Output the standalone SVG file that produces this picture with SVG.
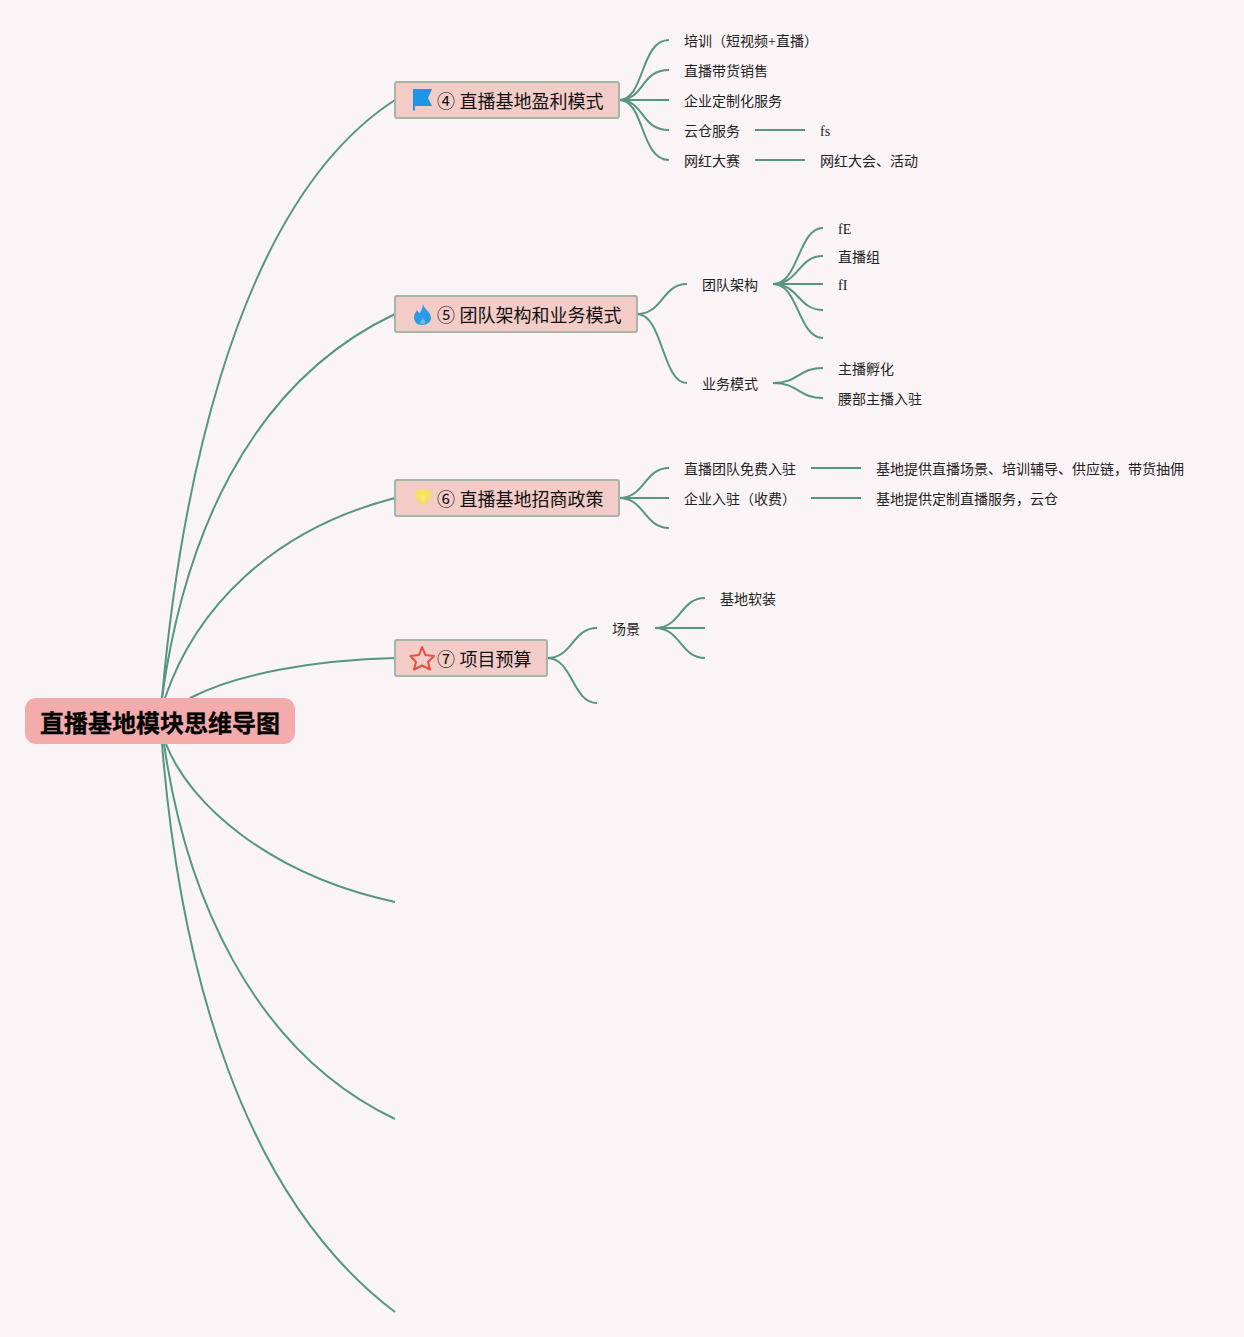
<svg xmlns="http://www.w3.org/2000/svg" width="1244" height="1337" viewBox="0 0 1244 1337">
<style>
text{font-family:"Liberation Serif","Noto Sans CJK SC",serif;fill:#222}
.t{font-size:14px}
.m{font-size:18px;fill:#111}
.r{font-size:24px;font-weight:700;fill:#000;stroke:#000;stroke-width:.3px}
.b{fill:#f3cbc7;stroke:#a5b5a8;stroke-width:2}
.c path{fill:none;stroke:#559681;stroke-width:2}
</style>
<rect width="1244" height="1337" fill="#fbf4f7"/>
<g class="c" id="connectors">
<path d="M162 698C177 530 225 210 395 100"/>
<path d="M162 698C183 545 245 385 395 314"/>
<path d="M165 698C195 610 270 530 395 498"/>
<path d="M190 698C240 672 320 660 395 658"/>
<path d="M166 744C190 805 270 875 395 902"/>
<path d="M164 744C185 890 250 1050 395 1119"/>
<path d="M162 744C180 965 240 1195 395 1312"/>
<path d="M619 100C645 100 640 40 669 40"/>
<path d="M619 100C645 100 640 70 669 70"/>
<path d="M619 100H669"/>
<path d="M619 100C645 100 640 130 669 130"/>
<path d="M619 100C645 100 640 160 669 160"/>
<path d="M755 130H805"/>
<path d="M755 160H805"/>
<path d="M637 314C663 314 662 284 687 284"/>
<path d="M637 314C663 314 662 383 687 383"/>
<path d="M773 284C799 284 798 228 823 228"/>
<path d="M773 284C799 284 798 256 823 256"/>
<path d="M773 284H823"/>
<path d="M773 284C799 284 798 310 823 310"/>
<path d="M773 284C799 284 798 338 823 338"/>
<path d="M773 383C799 383 798 368 823 368"/>
<path d="M773 383C799 383 798 398 823 398"/>
<path d="M619 498C645 498 644 468 669 468"/>
<path d="M619 498H669"/>
<path d="M619 498C645 498 644 528 669 528"/>
<path d="M811 468H861"/>
<path d="M811 498H861"/>
<path d="M547 658C573 658 572 628 597 628"/>
<path d="M547 658C573 658 572 703 597 703"/>
<path d="M655 628C681 628 680 598 705 598"/>
<path d="M655 628H705"/>
<path d="M655 628C681 628 680 658 705 658"/>
</g>
<g id="root"><rect x="25" y="698" width="270" height="46" rx="11" fill="#f4abab"/><text class="r" x="40" y="732">直播基地模块思维导图</text></g>
<g id="n4"><rect class="b" x="395" y="82" width="224" height="36" rx="2"/>
<path d="M413 89H432L428 98L432 106H415V110.500H413Z" fill="#1a96e2"/>
<text class="m" x="437" y="108">④ 直播基地盈利模式</text></g>
<g id="n5"><rect class="b" x="395" y="296" width="242" height="36" rx="2"/>
<path d="M423 304C424 309 431 312 431 318C431 322 427 325 422 325C417 325 414 322 414 317C414 314 416 312 417 310C418 312 419 313 420 313C421 310 423 308 423 304Z" fill="#2a9be6"/>
<path d="M423 318C424 320 425.500 321 425.500 322C425.500 323.500 424 324 422.500 324C421 324 420 323.500 420 322C420 321 422 320 423 318Z" fill="#6fb8e6"/>
<text class="m" x="437" y="322">⑤ 团队架构和业务模式</text></g>
<g id="n6"><rect class="b" x="395" y="480" width="224" height="36" rx="2"/>
<path d="M417.500 490H428.500L432 495.500L423 506L414 495.500Z" fill="#f5e35a"/>
<path d="M419.500 495.500H426.500L423 502Z" fill="#f7e97e"/>
<text class="m" x="437" y="506">⑥ 直播基地招商政策</text></g>
<g id="n7"><rect class="b" x="395" y="640" width="152" height="36" rx="2"/>
<path d="M422 647L425.500 655L434 656L428 662L430 669.500L422 665.500L414 669.500L416 662L410.500 656L419 655Z" fill="none" stroke="#e8503c" stroke-width="2" stroke-linejoin="round"/>
<text class="m" x="437" y="666">⑦ 项目预算</text></g>
<g id="labels">
<text class="t" x="684" y="46">培训（短视频+直播）</text>
<text class="t" x="684" y="76">直播带货销售</text>
<text class="t" x="684" y="106">企业定制化服务</text>
<text class="t" x="684" y="136">云仓服务</text>
<text class="t" x="820" y="136">fs</text>
<text class="t" x="684" y="166">网红大赛</text>
<text class="t" x="820" y="166">网红大会、活动</text>
<text class="t" x="702" y="290">团队架构</text>
<text class="t" x="838" y="234">fE</text>
<text class="t" x="838" y="262">直播组</text>
<text class="t" x="838" y="290">fI</text>
<text class="t" x="702" y="389">业务模式</text>
<text class="t" x="838" y="374">主播孵化</text>
<text class="t" x="838" y="404">腰部主播入驻</text>
<text class="t" x="684" y="474">直播团队免费入驻</text>
<text class="t" x="684" y="504">企业入驻（收费）</text>
<text class="t" x="876" y="474">基地提供直播场景、培训辅导、供应链，带货抽佣</text>
<text class="t" x="876" y="504">基地提供定制直播服务，云仓</text>
<text class="t" x="612" y="634">场景</text>
<text class="t" x="720" y="604">基地软装</text>
</g>
</svg>
